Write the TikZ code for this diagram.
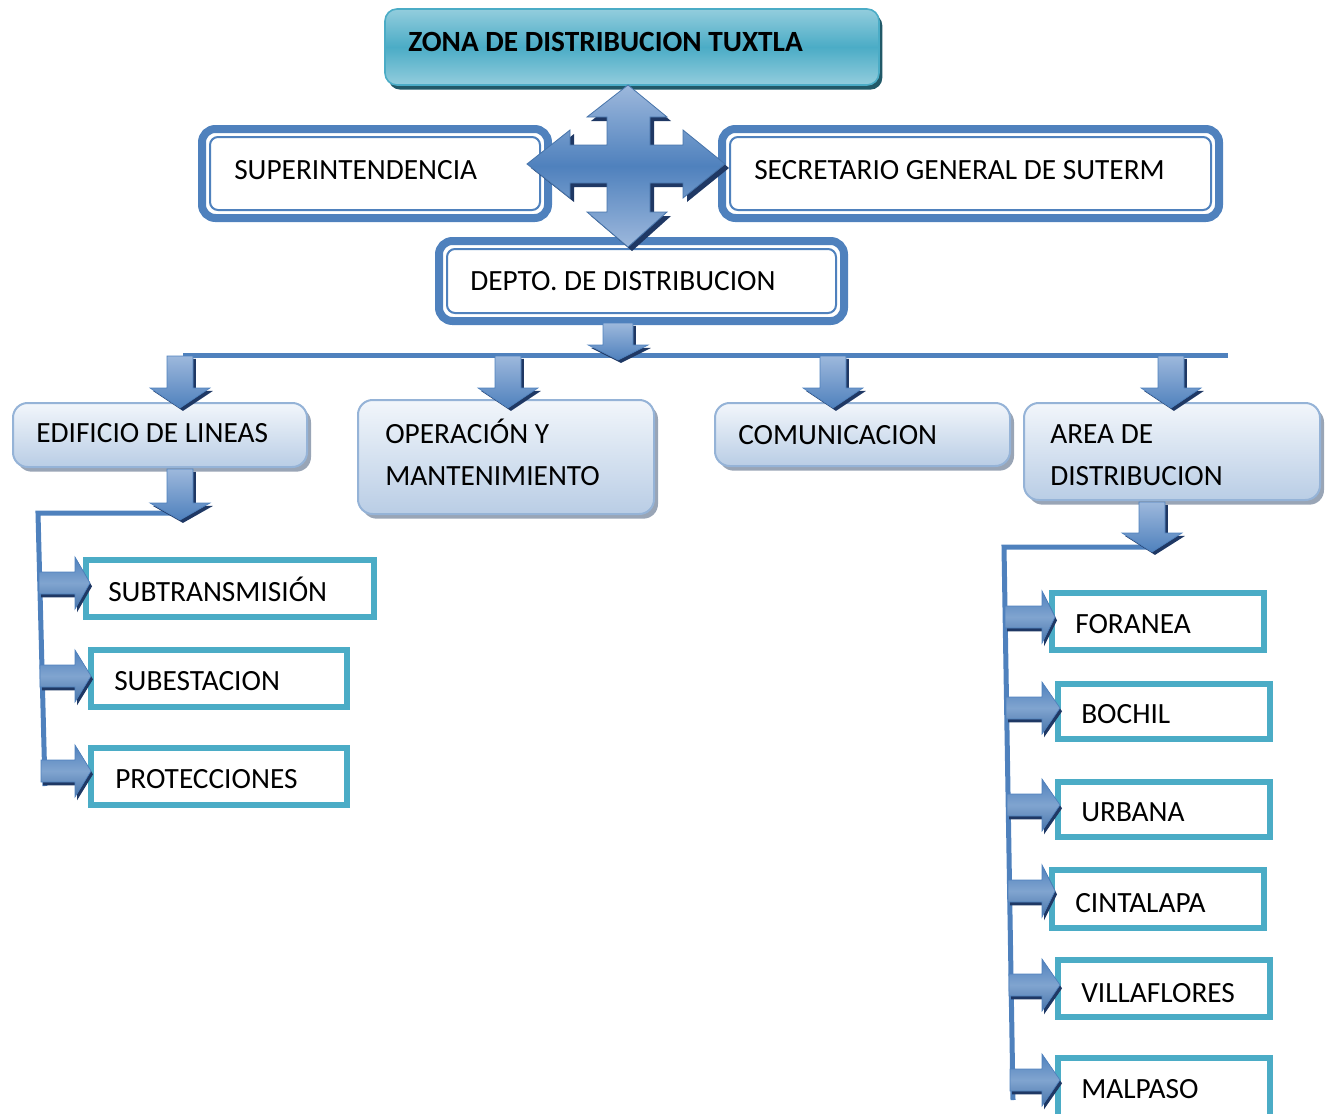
\documentclass[tikz,border=0pt]{standalone}
\usepackage{fontspec}
\setmainfont{Carlito}
\usetikzlibrary{fit,shadows}
\definecolor{blu}{HTML}{4F81BD}
\definecolor{lblu}{HTML}{9DB8DC}
\definecolor{navy}{HTML}{1F3864}
\definecolor{teal}{HTML}{4BACC6}
\definecolor{lteal}{HTML}{93CDDD}
\definecolor{dteal}{HTML}{215968}
\definecolor{boxtop}{HTML}{F2F6FB}
\definecolor{boxbot}{HTML}{B9CDE5}
\definecolor{boxbrd}{HTML}{95B3D7}
\definecolor{boxshd}{HTML}{8E9BAE}
\tikzset{
  lbl/.style={anchor=base west, inner sep=0pt, font=\fontsize{22}{26}\selectfont},
  titlebox/.style={rectangle, rounded corners=9pt, inner sep=0pt, draw=teal, line width=1.2pt,
     top color=lteal, bottom color=lteal, middle color=teal,
     drop shadow={shadow xshift=2.5pt, shadow yshift=-3.5pt, fill=dteal, opacity=1}},
  dblout/.style={rectangle, rounded corners=10pt, inner sep=0pt, draw=blu, line width=6pt, fill=white},
  dblin/.style={rectangle, rounded corners=6pt, inner sep=0pt, draw=blu, line width=1.5pt},
  lvbox/.style={rectangle, rounded corners=11pt, inner sep=0pt, draw=boxbrd, line width=1.5pt,
     top color=boxtop, bottom color=boxbot,
     drop shadow={shadow xshift=3pt, shadow yshift=-3.5pt, fill=boxshd, opacity=0.9}},
  chbox/.style={rectangle, inner sep=0pt, draw=teal, line width=4.5pt, fill=white},
  conn/.style={draw=blu, line width=3.75pt},
  darrow/.style={top color=lblu, bottom color=blu, draw=blu, line width=0.5pt,
     drop shadow={shadow xshift=2.2pt, shadow yshift=-2.2pt, fill=navy, opacity=1}},
  rarrow/.style={top color=blu, bottom color=blu!90!black, middle color=blu!72!white, draw=blu, line width=0.5pt,
     drop shadow={shadow xshift=1.5pt, shadow yshift=-2.5pt, fill=navy, opacity=1}},
  crossarrow/.style={top color=lblu, bottom color=lblu, middle color=blu, draw=blu!90!black, line width=0.6pt,
     drop shadow={shadow xshift=3pt, shadow yshift=-3pt, fill=navy, opacity=1}},
}
% down block arrow: center x, top, head top, tip, shaft half width
\newcommand\dArr[5]{\path[darrow] (#1-#5,#2) -- (#1-#5,#3) -- (#1-30,#3) -- (#1,#4) -- (#1+30,#3) -- (#1+#5,#3) -- (#1+#5,#2) -- cycle;}
% right block arrow: x start, center y, head base, tip
\newcommand\rArr[4]{\path[rarrow] (#1,#2-11) -- (#3,#2-11) -- (#3,#2-26) -- (#4,#2) -- (#3,#2+26) -- (#3,#2+11) -- (#1,#2+11) -- cycle;}
\begin{document}
\begin{tikzpicture}[x=0.75pt,y=-0.75pt]
\useasboundingbox (0,0) rectangle (1330,1113);
\clip (0,0) rectangle (1330,1113);

% ---------- title
\node[titlebox, fit={(385,9)(879,85)}] (zona) {};
\node[lbl, font=\fontsize{22}{26}\selectfont\bfseries] (zonaT) at (408,52) {ZONA DE DISTRIBUCION TUXTLA};

% ---------- double boxes
\node[dblout, fit={(202,129)(548,218)}] (sup) {};
\node[dblin, fit={(210,137)(540,210)}] (supI) {};
\node[lbl] (supT) at (234,179) {SUPERINTENDENCIA};

\node[dblout, fit={(722,129)(1219,218)}] (sec) {};
\node[dblin, fit={(730,137)(1211,210)}] (secI) {};
\node[lbl] (secT) at (754,179) {SECRETARIO GENERAL DE SUTERM};

\node[dblout, fit={(439,241)(844,321)}] (dep) {};
\node[dblin, fit={(447,249)(836,313)}] (depI) {};
\node[lbl] (depT) at (470,290) {DEPTO. DE DISTRIBUCION};

% ---------- cross arrow
\path[crossarrow] (628,85) -- (667,117) -- (650,117) -- (650,145) -- (683,145) -- (683,130)
  -- (725,164) -- (683,198) -- (683,183) -- (650,183) -- (650,212) -- (667,212) -- (628,247)
  -- (587,212) -- (607,212) -- (607,183) -- (570,183) -- (570,198) -- (527,164) -- (570,130)
  -- (570,145) -- (607,145) -- (607,117) -- (587,117) -- cycle;

% ---------- level 2 boxes
\node[lvbox, fit={(13,403)(307,467)}] (edi) {};
\node[lbl] (ediT) at (36,442) {EDIFICIO DE LINEAS};
\node[lvbox, fit={(358,400)(654,514)}] (ope) {};
\node[lbl] (opeT1) at (385,443) {OPERACIÓN Y};
\node[lbl] (opeT2) at (385,485) {MANTENIMIENTO};
\node[lvbox, fit={(715,403)(1010,466)}] (com) {};
\node[lbl] (comT) at (738,444) {COMUNICACION};
\node[lvbox, fit={(1024,403)(1320,500)}] (are) {};
\node[lbl] (areT1) at (1050,443) {AREA DE};
\node[lbl] (areT2) at (1050,485) {DISTRIBUCION};

% ---------- connectors
\coordinate (hl) at (183,355);
\coordinate (hr) at (1228,355);
\draw[conn] (hl) -- (hr);
\coordinate (lb0) at (180,513);
\coordinate (lb1) at (38,513);
\coordinate (lb2) at (45,786);
\draw[conn] (lb0) -- (lb1) -- (lb2);
\coordinate (rb0) at (1152,547);
\coordinate (rb1) at (1004,547);
\coordinate (rb2) at (1013,1100);
\draw[conn] (rb0) -- (rb1) -- (rb2);

% ---------- down arrows
\dArr{618}{323}{345}{360}{15}
\dArr{180}{356}{388}{408}{13}
\dArr{508}{356}{388}{408}{13}
\dArr{833}{356}{388}{408}{13}
\dArr{1171}{356}{388}{408}{13}
\dArr{180}{469}{503}{520}{13}
\dArr{1152}{502}{533}{552}{13}

% ---------- child boxes
\node[chbox, fit={(86,560)(374,617)}] (sub) {};
\node[lbl] (subT) at (108,601) {SUBTRANSMISIÓN};
\node[chbox, fit={(91,650)(347,707)}] (ses) {};
\node[lbl] (sesT) at (114,690) {SUBESTACION};
\node[chbox, fit={(91,748)(347,805)}] (pro) {};
\node[lbl] (proT) at (115,788) {PROTECCIONES};

\node[chbox, fit={(1052,593)(1264,650)}] (for) {};
\node[lbl] (forT) at (1075,633) {FORANEA};
\node[chbox, fit={(1058,684)(1270,739)}] (boc) {};
\node[lbl] (bocT) at (1081,723) {BOCHIL};
\node[chbox, fit={(1058,782)(1270,837)}] (urb) {};
\node[lbl] (urbT) at (1081,821) {URBANA};
\node[chbox, fit={(1052,870)(1264,928)}] (cin) {};
\node[lbl] (cinT) at (1075,912) {CINTALAPA};
\node[chbox, fit={(1058,960)(1270,1017)}] (vil) {};
\node[lbl] (vilT) at (1081,1002) {VILLAFLORES};
\node[chbox, fit={(1058,1058)(1270,1130)}] (mal) {};
\node[lbl] (malT) at (1081,1098) {MALPASO};

% ---------- right arrows
\rArr{39}{583}{75}{90}
\rArr{40}{676}{75}{91}
\rArr{41}{771}{75}{91}
\rArr{1005}{617}{1042}{1055}
\rArr{1006}{708}{1042}{1060}
\rArr{1007}{805}{1042}{1060}
\rArr{1008}{891}{1042}{1055}
\rArr{1009}{985}{1042}{1060}
\rArr{1010}{1080}{1042}{1060}
\end{tikzpicture}
\end{document}
